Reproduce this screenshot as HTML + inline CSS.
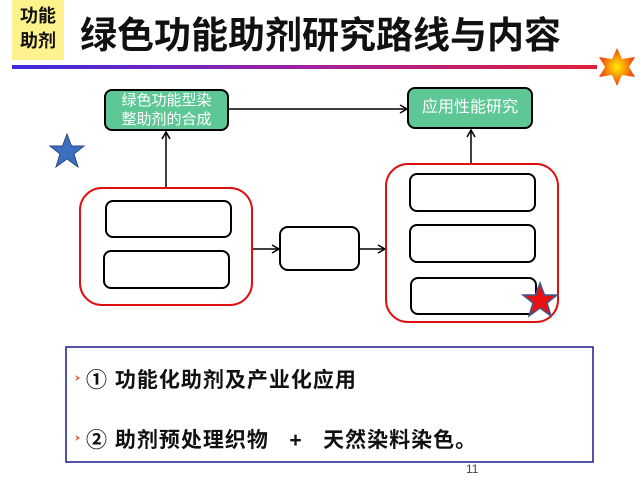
<!DOCTYPE html>
<html><head><meta charset="utf-8"><style>
body{margin:0;width:640px;height:480px;background:#fff;position:relative;overflow:hidden;font-family:"Liberation Sans","Noto Sans CJK SC",sans-serif}
.a{position:absolute}
</style></head><body>
<div class="a" style="left:12px;top:0;width:52px;height:60px;background:#fdf28c"></div>
<div class="a" style="left:12px;top:4px;width:52px;text-align:center;font-size:18px;font-weight:bold;line-height:25px;color:#111">功能<br>助剂</div>
<div class="a" style="left:80px;top:5px;font-size:37px;font-weight:bold;color:#111;white-space:nowrap">绿色功能助剂研究路线与内容</div>
<div class="a" style="left:12px;top:65px;width:585px;height:4px;background:linear-gradient(90deg,#3a2be0,#a020a0,#e0203a)"></div>
<svg class="a" style="left:0;top:0" width="640" height="480">
<defs><radialGradient id="g"><stop offset="0" stop-color="#ffee00"/><stop offset="1" stop-color="#f04010"/></radialGradient></defs>
<polygon fill="url(#g)" points="617,48 622,59 635,57 629,67 635,77 622,75 617,86 612,75 599,77 605,67 599,57 612,59"/>
<g stroke="#000" stroke-width="1.5" fill="none">
<line x1="228" y1="109" x2="406" y2="109"/><polyline points="400,105 407,109 400,113"/>
<line x1="166" y1="188" x2="166" y2="133"/><polyline points="162,139 166,132 170,139"/>
<line x1="471" y1="164" x2="471" y2="131"/><polyline points="467,137 471,130 475,137"/>
<line x1="252" y1="249" x2="278" y2="249"/><polyline points="272,245 279,249 272,253"/>
<line x1="359" y1="249" x2="384" y2="249"/><polyline points="378,245 385,249 378,253"/>
<rect x="106" y="201" width="125" height="36" rx="7" stroke-width="2"/>
<rect x="104" y="251" width="125" height="37" rx="7" stroke-width="2"/>
<rect x="280" y="227" width="79" height="43" rx="8" stroke-width="2"/>
<rect x="410" y="174" width="125" height="37" rx="7" stroke-width="2"/>
<rect x="410" y="225" width="125" height="37" rx="7" stroke-width="2"/>
<rect x="411" y="278" width="125" height="36" rx="7" stroke-width="2"/>
</g>
<rect x="80" y="188" width="172" height="117" rx="22" fill="none" stroke="#e01010" stroke-width="2"/>
<rect x="386" y="164" width="172" height="158" rx="22" fill="none" stroke="#e01010" stroke-width="2"/>
<rect x="105" y="90" width="123" height="40" rx="7" fill="#5ec796" stroke="#000" stroke-width="2"/>
<rect x="408" y="88" width="124" height="40" rx="7" fill="#5ec796" stroke="#000" stroke-width="2"/>
<polygon fill="#3d6fc0" stroke="#2a4a80" points="67,134 71.5,146 84,146 74,154 78,167 67,159 56,167 60,154 50,146 62.5,146"/>
<polygon fill="#e81010" stroke="#3a5a90" stroke-width="1.5" points="540,283 544.5,295 557,295 547,303 551,316 540,308 529,316 533,303 523,295 535.5,295"/>
<rect x="66" y="347" width="527" height="115" fill="none" stroke="#1a1a8a" stroke-width="1.5"/>
<polygon fill="#e05020" points="75,375 80,378 75,381 77,378"/>
<polygon fill="#e05020" points="75,435 80,438 75,441 77,438"/>
</svg>
<div class="a" style="left:105px;top:91px;width:123px;text-align:center;color:#fff;font-size:15px;line-height:19px">绿色功能型染<br>整助剂的合成</div>
<div class="a" style="left:408px;top:98px;width:124px;text-align:center;color:#fff;font-size:16px;line-height:20px">应用性能研究</div>
<div class="a" style="left:86px;top:364px;font-size:21px;font-weight:bold;color:#111;white-space:nowrap;letter-spacing:1px">① 功能化助剂及产业化应用</div>
<div class="a" style="left:86px;top:424px;font-size:21px;font-weight:bold;color:#111;white-space:nowrap;letter-spacing:1px">② 助剂预处理织物 &nbsp; + &nbsp; 天然染料染色。</div>
<div class="a" style="left:466px;top:462px;font-size:12px;color:#444">11</div>
</body></html>
